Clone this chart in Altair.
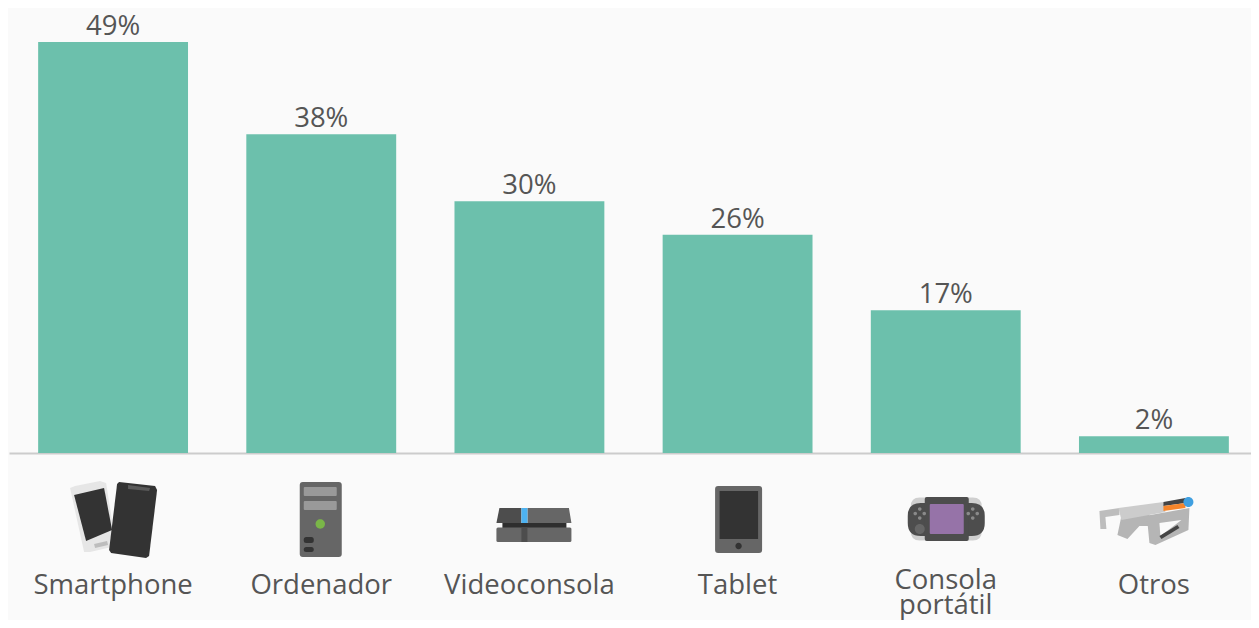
import altair as alt
import pandas as pd

categories = ["Smartphone", "Ordenador", "Videoconsola", "Tablet", "Consola portátil", "Otros"]
values = [49, 38, 30, 26, 17, 2]
value_labels = ["49%", "38%", "30%", "26%", "17%", "2%"]

BAR = "#6cc0ac"
TEXT = "#555555"
BG = "#fafafa"
FONT = "Open Sans"
ICON_Y = 520
CENTERS = dict(zip(categories, [113, 321.5, 530, 738, 946, 1154.5]))


def poly(*pts):
    return pts


def box(x0, y0, x1, y1):
    return ((x0, y0), (x1, y0), (x1, y1), (x0, y1))


def circle(cx, cy, r):
    return ("c", cx, cy, r)


def rbox(x0, y0, x1, y1, r):
    return ("r", x0, y0, x1, y1, r)


def path_of(shape, cat):
    cx = CENTERS[cat]
    if shape[0] == "c":
        _, x, y, r = shape
        x -= cx
        y -= ICON_Y
        return f"M{x-r},{y}A{r},{r},0,1,1,{x+r},{y}A{r},{r},0,1,1,{x-r},{y}Z"
    if shape[0] == "r":
        _, a, b, c, d, r = shape
        a -= cx; c -= cx; b -= ICON_Y; d -= ICON_Y
        return (f"M{a+r},{b}L{c-r},{b}Q{c},{b},{c},{b+r}L{c},{d-r}Q{c},{d},{c-r},{d}"
                f"L{a+r},{d}Q{a},{d},{a},{d-r}L{a},{b+r}Q{a},{b},{a+r},{b}Z")
    return "M" + "L".join(f"{x-cx},{y-ICON_Y}" for x, y in shape) + "Z"


icons = {
    "Smartphone": [
        (poly((70, 488), (75, 486), (100, 481), (106, 483), (116, 546), (90, 552), (84, 552)), "#e6e6e6"),
        (poly((74, 495), (104, 488), (112, 530), (86, 541)), "#333333"),
        (poly((94, 544), (107, 541), (108, 545), (95, 548)), "#bdbdbd"),
        (poly((119, 482), (155, 486), (157, 490), (149, 556), (146, 558), (111, 553), (109, 550), (117, 484)), "#333333"),
        (poly((128, 485), (150, 488), (149, 491), (128, 489)), "#5a5a5a"),
    ],
    "Ordenador": [
        (rbox(300, 482, 342, 557, 3), "#666666"),
        (rbox(304, 487, 337, 496, 1), "#999999"),
        (rbox(304, 501, 337, 510, 1), "#999999"),
        (circle(320.5, 524, 4.7), "#7ab648"),
        (rbox(304, 537, 314, 543, 2.5), "#333333"),
        (rbox(304, 547, 314, 552, 2.5), "#333333"),
    ],
    "Videoconsola": [
        (poly((503, 523), (567, 523), (567, 528), (503, 528)), "#2e2e2e"),
        (poly((500, 508), (522, 508), (522, 523), (497, 523)), "#4d4d4d"),
        (poly((528, 508), (569.5, 508), (572, 523), (528, 523)), "#666666"),
        (box(522, 508, 528, 523), "#4db2f0"),
        (rbox(497, 527.5, 572, 542, 1.5), "#666666"),
        (box(522, 527.5, 528, 542), "#4d4d4d"),
    ],
    "Tablet": [
        (rbox(715.5, 486, 762.5, 553, 3), "#666666"),
        (box(720, 491, 758.5, 539), "#333333"),
        (circle(739, 546, 3.2), "#333333"),
    ],
    "Consola portátil": [
        (rbox(911, 497.5, 982, 540.5, 9), "#cfcfcf"),
        (rbox(908, 503, 985, 536, 13), "#4d4d4d"),
        (rbox(925, 497, 969, 541, 2), "#4d4d4d"),
        (rbox(930, 504, 964, 534, 1), "#9673a8"),
        (circle(920, 509, 1.8), "#8a8a8a"),
        (circle(920, 518, 1.8), "#8a8a8a"),
        (circle(915.5, 513.5, 1.8), "#8a8a8a"),
        (circle(924.5, 513.5, 1.8), "#8a8a8a"),
        (circle(973, 509, 1.8), "#8a8a8a"),
        (circle(973, 518, 1.8), "#8a8a8a"),
        (circle(968.5, 513.5, 1.8), "#8a8a8a"),
        (circle(977.5, 513.5, 1.8), "#8a8a8a"),
        (circle(920, 529, 5), "#666666"),
    ],
    "Otros": [
        (poly((1100, 511), (1120, 508), (1120, 515), (1106, 517), (1107, 529), (1101, 529)), "#bdbdbd"),
        (poly((1122, 516), (1150, 512), (1150, 526), (1140, 526), (1128, 539), (1118, 535)), "#b5b5b5"),
        (poly((1140, 517), (1190, 508), (1189, 530), (1156, 545), (1150, 543), (1148, 522)), "#b5b5b5"),
        (poly((1160, 523), (1182, 520), (1161, 536)), BG),
        (poly((1160, 536), (1178, 525), (1180, 528), (1162, 539)), "#444444"),
        (poly((1119, 508), (1164, 502), (1166, 512), (1122, 520)), "#cccccc"),
        (poly((1164, 502), (1186, 498), (1186, 503), (1164, 506)), "#444444"),
        (poly((1164, 506), (1186, 503), (1186, 508), (1164, 511)), "#f5852a"),
        (circle(1189, 502, 5), "#3f9fe0"),
    ],
}

df = pd.DataFrame({"cat": categories, "v": values, "lab": value_labels})
icon_rows = [
    {"cat": c, "order": i, "path": path_of(s, c), "fill": f}
    for c, items in icons.items()
    for i, (s, f) in enumerate(items)
]
icon_df = pd.DataFrame(icon_rows)

x = alt.X(
    "cat:N",
    sort=categories,
    title=None,
    scale=alt.Scale(paddingInner=0.28, paddingOuter=0.14, range=[0, 1249]),
    axis=alt.Axis(
        domainColor="#cccccc",
        domainWidth=2,
        ticks=False,
        labelAngle=0,
        labelFont=FONT,
        labelFontSize=27.5,
        labelColor=TEXT,
        labelPadding={"condition": {"test": "datum.label == 'Consola portátil'", "value": 113}, "value": 118},
        labelBaseline="top",
        labelLineHeight=25,
        labelLimit=0,
        labelExpr="datum.label == 'Consola portátil' ? ['Consola', 'portátil'] : datum.label",
    ),
)
y = alt.Y("v:Q", axis=None, scale=alt.Scale(domain=[0, 445 / 8.39], nice=False))

bars = alt.Chart(df).mark_bar(color=BAR).encode(x=x, y=y)
labels = (
    alt.Chart(df)
    .mark_text(font=FONT, fontSize=27.5, color=TEXT, baseline="alphabetic", dy=-7)
    .encode(x=x, y=y, text="lab:N")
)
glyphs = (
    alt.Chart(icon_df)
    .mark_point(filled=True, opacity=1, strokeWidth=0)
    .encode(
        x=x,
        y=alt.value(ICON_Y - 8),
        size=alt.value(4),
        shape=alt.Shape("path:N", scale=None),
        color=alt.Color("fill:N", scale=None),
    )
)

chart = (
    alt.layer(bars, labels, glyphs)
    .properties(
        width=1242,
        height=445,
        background=BG,
        autosize=alt.AutoSizeParams(type="none"),
        padding={"left": 1, "top": 0, "right": 0, "bottom": 167},
    )
    .configure_view(stroke=None)
)
chart.save("out.html", embed_options={"renderer": "svg", "actions": False})
